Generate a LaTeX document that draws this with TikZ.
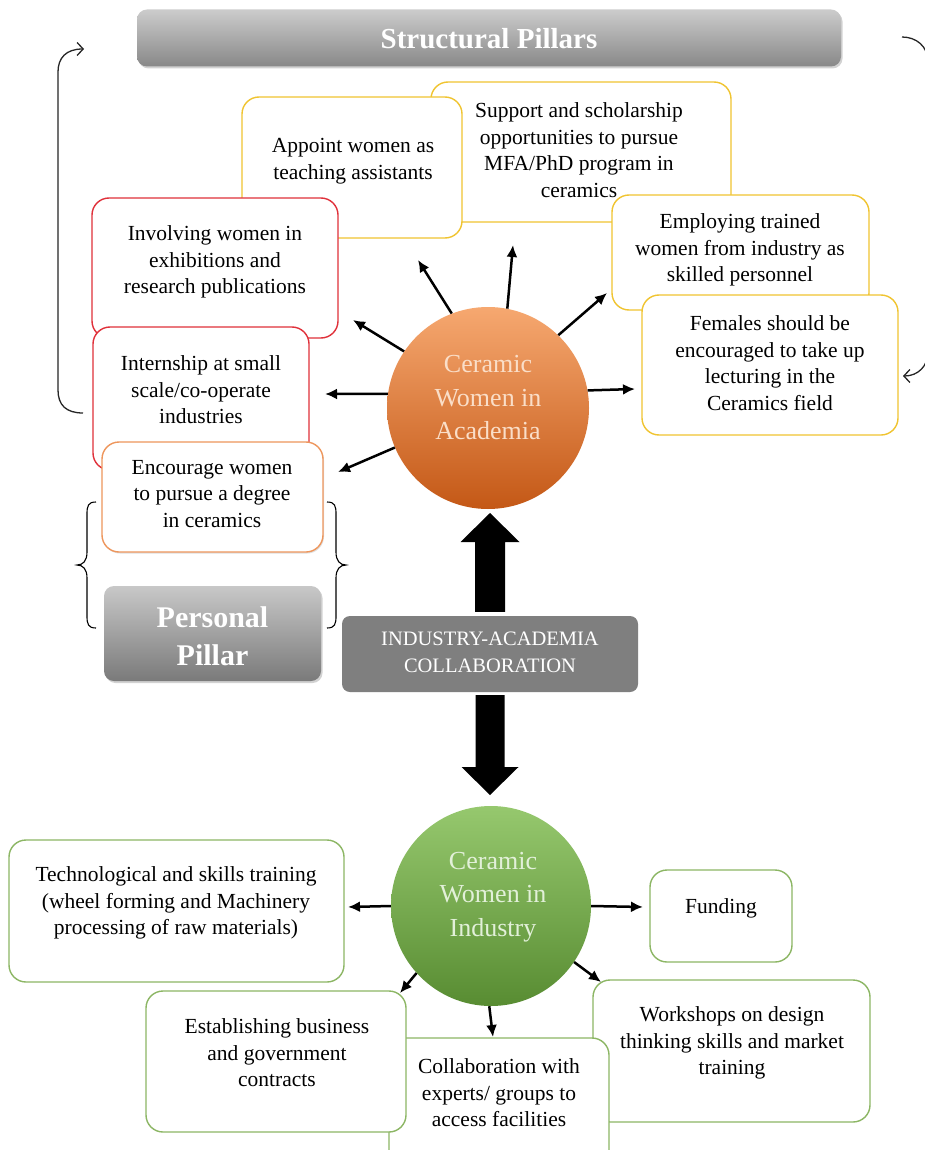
\documentclass[tikz,border=0pt]{standalone}
\usepackage{fontspec}
\setmainfont{Liberation Serif}
\usetikzlibrary{arrows.meta,shadows,calc}
\definecolor{redb}{RGB}{224,48,58}
\definecolor{yelb}{RGB}{240,196,48}
\definecolor{orab}{RGB}{238,150,92}
\definecolor{grnb}{RGB}{140,182,100}
\definecolor{acadtop}{RGB}{246,168,112}
\definecolor{acadbot}{RGB}{196,88,22}
\definecolor{indtop}{RGB}{150,200,110}
\definecolor{indbot}{RGB}{88,140,50}
\definecolor{gtop}{RGB}{204,204,204}
\definecolor{gbot}{RGB}{136,136,136}
\definecolor{iacg}{RGB}{127,127,127}
\begin{document}
\begin{tikzpicture}[x=1pt,y=-1pt,
  box/.style={draw, line width=1.4pt, rounded corners=17pt, fill=white, inner sep=0pt},
  redbox/.style={box, draw=redb},
  yelbox/.style={box, draw=yelb},
  orabox/.style={box, draw=orab},
  grnbox/.style={box, draw=grnb},
  txt/.style={align=center, font=\fontsize{21.5}{26.5}\selectfont, inner sep=0pt, text=black},
  ctxt/.style={align=center, font=\fontsize{26}{33.5}\selectfont, inner sep=0pt},
  arr/.style={line width=2.5pt, -{Latex[length=12pt,width=11pt]}},
  brk/.style={line width=1.3pt, draw=black!85, -{Straight Barb[length=6pt,width=13pt]}},
  banner/.style={rounded corners=10pt, top color=gtop, bottom color=gbot, draw=none, drop shadow={opacity=0.35, shadow xshift=1.5pt, shadow yshift=-2pt}},
]
\useasboundingbox (0,0) rectangle (925,1150);
\fill[white] (0,0) rectangle (925,1150);

% Structural pillars banner
\node[banner, minimum width=704pt, minimum height=57pt] (sp) at (489,38) {};
\node[font=\fontsize{29}{29}\selectfont\bfseries, text=white, inner sep=0pt] (spt) at (489,39) {Structural Pillars};

% brackets
\coordinate (lbstart) at (83,413);
\coordinate (lbend) at (84,49);
\draw[brk] (lbstart) .. controls (66,413) and (58,405) .. (58,390) -- (58,72) .. controls (58,58) and (66,49) .. (lbend);
\coordinate (rbstart) at (902,37);
\coordinate (rbend) at (903,376);
\draw[brk] (rbstart) .. controls (916,37) and (928,46) .. (928,62) -- (928,352) .. controls (928,366) and (918,376) .. (rbend);

% academia boxes
\node[yelbox, minimum width=300pt, minimum height=140pt] (support) at (581,152) {};
\node[txt] (supportt) at (579,150) {Support and scholarship\\opportunities to pursue\\MFA/PhD program in\\ceramics};
\node[yelbox, minimum width=220pt, minimum height=141pt] (appoint) at (352,167.5) {};
\node[txt] (appointt) at (353,161) {Appoint women as\\teaching assistants};
\node[redbox, minimum width=246pt, minimum height=140pt] (involving) at (215,268) {};
\node[txt] (involvingt) at (215,262) {Involving women in\\exhibitions and\\research publications};
\node[redbox, minimum width=216pt, minimum height=143pt] (intern) at (201,398.5) {};
\node[txt] (internt) at (201,390) {Internship at small\\scale/co-operate\\industries};
\node[orabox, minimum width=221pt, minimum height=110pt, drop shadow={opacity=0.25, shadow xshift=1pt, shadow yshift=-1.5pt}] (encourage) at (212.5,497) {};
\node[txt] (encouraget) at (212,494) {Encourage women\\to pursue a degree\\in ceramics};
\node[yelbox, minimum width=257pt, minimum height=115pt] (employ) at (740.5,252.5) {};
\node[txt] (employt) at (740,250) {Employing trained\\women from industry as\\skilled personnel};
\node[yelbox, minimum width=256pt, minimum height=140pt] (females) at (770,365) {};
\node[txt] (femalest) at (770,363) {Females should be\\encouraged to take up\\lecturing in the\\Ceramics field};

% academia circle
\node[circle, minimum size=202pt, inner sep=0pt, top color=acadtop, bottom color=acadbot, draw=none] (acad) at (488,408) {};
\node[ctxt, text={rgb,255:red,250;green,222;blue,200}] (acadt) at (488,398) {Ceramic\\Women in\\Academia};

% arrows from academia circle
\coordinate (tAppoint) at (418,260);
\coordinate (tSupport) at (513,245);
\coordinate (tEmploy) at (607,293);
\coordinate (tFemales) at (635,389);
\coordinate (tInvolving) at (353,320);
\coordinate (tIntern) at (325,394);
\coordinate (tEncourage) at (338,472);
\draw[arr] (acad.111.8) -- (tAppoint);
\draw[arr] (acad.79.3) -- (tSupport);
\draw[arr] (acad.46.2) -- (tEmploy);
\draw[arr] (acad.10.5) -- (tFemales);
\draw[arr] (acad.146.6) -- (tInvolving);
\draw[arr] (acad.172) -- (tIntern);
\draw[arr] (acad.203.7) -- (tEncourage);

% braces
\coordinate (lbrT) at (96,502);
\coordinate (lbrB) at (96,628);
\draw[line width=1.1pt] (lbrT) .. controls (88,502) and (87,506) .. (87,514) -- (87,552) .. controls (87,561) and (83,565) .. (77,565)
  .. controls (83,565) and (87,569) .. (87,578) -- (87,616) .. controls (87,624) and (88,628) .. (lbrB);
\coordinate (rbrT) at (327,502);
\coordinate (rbrB) at (327,628);
\draw[line width=1.1pt] (rbrT) .. controls (335,502) and (336,506) .. (336,514) -- (336,552) .. controls (336,561) and (340,565) .. (346,565)
  .. controls (340,565) and (336,569) .. (336,578) -- (336,616) .. controls (336,624) and (335,628) .. (rbrB);

% personal pillar
\node[banner, minimum width=217pt, minimum height=95pt, top color={rgb,255:red,200;green,200;blue,200}, bottom color={rgb,255:red,122;green,122;blue,122}] (pp) at (212.5,633.5) {};
\node[font=\fontsize{30}{38}\selectfont\bfseries, text=white, align=center, inner sep=0pt] (ppt) at (212.5,636) {Personal\\Pillar};

% industry-academia collaboration
\node[fill=iacg, rounded corners=8pt, minimum width=296pt, minimum height=76pt, inner sep=0pt] (iac) at (490,654) {};
\node[font=\fontsize{20.5}{27}\selectfont, text=white, align=center, inner sep=0pt] (iact) at (490,652) {INDUSTRY-ACADEMIA\\COLLABORATION};

% big arrows
\coordinate (upbase) at ($(iac.north)+(0,-4)$);
\coordinate (uptip) at (490,513);
\fill[black] ($(upbase)+(-15,0)$) -- ($(uptip)+(-15,29)$) -- ($(uptip)+(-29.5,29)$) -- (uptip) -- ($(uptip)+(29.5,29)$) -- ($(uptip)+(15,29)$) -- ($(upbase)+(15,0)$) -- cycle;
\coordinate (dnbase) at ($(iac.south)+(0,3)$);
\coordinate (dntip) at (490,795);
\fill[black] ($(dnbase)+(-14.5,0)$) -- ($(dntip)+(-14.5,-28)$) -- ($(dntip)+(-28.5,-28)$) -- (dntip) -- ($(dntip)+(28.5,-28)$) -- ($(dntip)+(14.5,-28)$) -- ($(dnbase)+(14.5,0)$) -- cycle;

% industry boxes
\node[grnbox, minimum width=335pt, minimum height=142pt] (tech) at (176.5,911) {};
\node[txt] (techt) at (176,903) {Technological and skills training\\(wheel forming and Machinery\\processing of raw materials)};
\node[grnbox, minimum width=142pt, minimum height=92pt] (funding) at (721,916) {};
\node[txt] (fundingt) at (721,908) {Funding};
\node[grnbox, minimum width=277pt, minimum height=142pt] (workshops) at (731.5,1051) {};
\node[txt] (workshopst) at (732,1043) {Workshops on design\\thinking skills and market\\training};
\node[grnbox, minimum width=220pt, minimum height=132pt] (collab) at (499,1104) {};
\node[txt] (collabt) at (499,1093) {Collaboration with\\experts/ groups to\\access facilities};
\node[grnbox, minimum width=260pt, minimum height=141pt] (establish) at (276,1061.5) {};
\node[txt] (establisht) at (277,1053) {Establishing business\\and government\\contracts};

% industry circle
\node[circle, minimum size=200pt, inner sep=0pt, top color=indtop, bottom color=indbot, draw=none] (ind) at (491,906) {};
\node[ctxt, text={rgb,255:red,226;green,240;blue,217}] (indt) at (493,897) {Ceramic\\Women in\\Industry};

% arrows from industry circle
\coordinate (tTech) at (348,907);
\coordinate (tFunding) at (643,907);
\coordinate (tEstablish) at (400,993);
\coordinate (tCollab) at (493,1037);
\coordinate (tWorkshops) at (601,982);
\draw[arr] (ind.180) -- (tTech);
\draw[arr] (ind.0) -- (tFunding);
\draw[arr] (ind.222.9) -- (tEstablish);
\draw[arr] (ind.269) -- (tCollab);
\draw[arr] (ind.326.3) -- (tWorkshops);
\end{tikzpicture}
\end{document}
